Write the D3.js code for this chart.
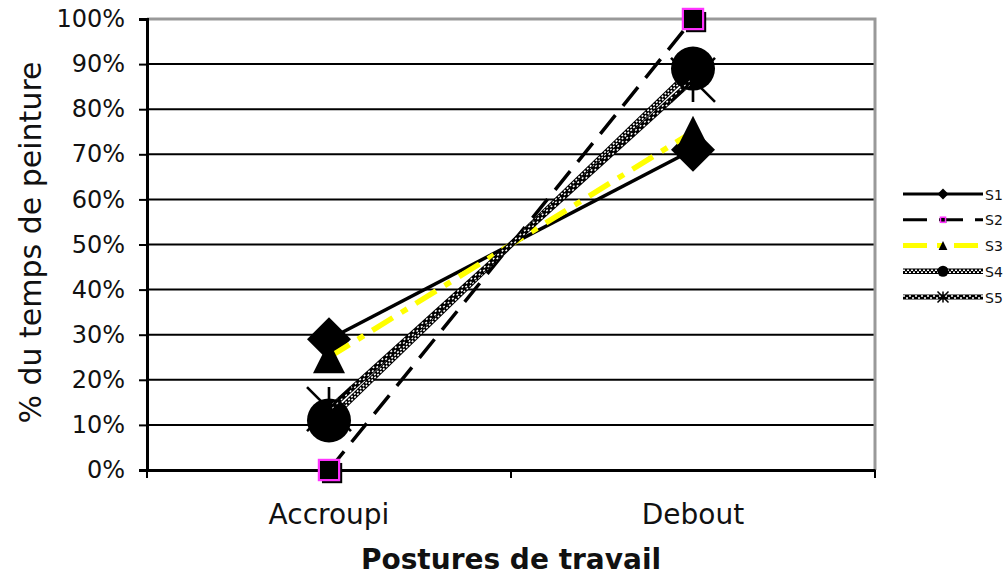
<!DOCTYPE html>
<html>
<head>
<meta charset="utf-8">
<script src="https://cdn.jsdelivr.net/npm/d3@7"></script>
<style>
  html, body { margin: 0; padding: 0; background: #fff; }
  svg { display: block; font-family: "DejaVu Sans", Verdana, sans-serif; }
</style>
</head>
<body>
<svg id="chart" width="1005" height="577"></svg>
<script>
// Postures de travail : part du temps de peinture par sujet
const categories = ["Accroupi", "Debout"];
const seriesNames = ["S1", "S2", "S3", "S4", "S5"];
const s1 = [29, 71];
const s2 = [0, 100];
const s3 = [25, 75];
const s4 = [11, 89];
const s5 = [13.5, 86.5];
const yTicks = [0, 10, 20, 30, 40, 50, 60, 70, 80, 90, 100];

const seriesValues = [s1, s2, s3, s4, s5];

const svg = d3.select("#chart");
const plot = { left: 147, right: 875, top: 19, bottom: 470 };

const x = d3.scaleBand().domain(categories).range([plot.left, plot.right]);
const y = d3.scaleLinear().domain([0, 100]).range([plot.bottom, plot.top]);
const cx = d => x(d) + x.bandwidth() / 2;

// gridlines
svg.append("g").selectAll("line")
  .data(yTicks.filter(t => t > 0 && t < 100))
  .join("line")
  .attr("x1", plot.left).attr("x2", plot.right)
  .attr("y1", d => y(d)).attr("y2", d => y(d))
  .attr("stroke", "#000").attr("stroke-width", 2);

// grey plot border (top and right)
svg.append("path")
  .attr("d", `M${plot.left},${y(100)}H${plot.right}V${plot.bottom}`)
  .attr("fill", "none").attr("stroke", "#999").attr("stroke-width", 3);

// y axis
const yAxis = d3.axisLeft(y).tickValues(yTicks).tickFormat(d => d + "%")
  .tickSize(8).tickPadding(14);
const gy = svg.append("g").attr("transform", `translate(${plot.left},0)`).call(yAxis);
gy.select(".domain").attr("stroke", "#000").attr("stroke-width", 3);
gy.selectAll(".tick line").attr("stroke", "#000").attr("stroke-width", 2);
gy.selectAll(".tick text").attr("font-size", 24).attr("fill", "#111")
  .attr("font-family", "DejaVu Sans, Verdana, sans-serif");

// x axis
const xAxis = d3.axisBottom(x).tickSize(0).tickPadding(34);
const gx = svg.append("g").attr("transform", `translate(0,${plot.bottom})`).call(xAxis);
gx.select(".domain").attr("stroke", "#000").attr("stroke-width", 3);
gx.selectAll(".tick text").attr("font-size", 28).attr("fill", "#111")
  .attr("font-family", "DejaVu Sans, Verdana, sans-serif");
// category boundary ticks
const bounds = [plot.left, plot.left + x.bandwidth(), plot.right];
gx.append("g").selectAll("line").data(bounds).join("line")
  .attr("x1", d => d).attr("x2", d => d).attr("y1", 0).attr("y2", 8)
  .attr("stroke", "#000").attr("stroke-width", 2);

// axis titles
svg.append("text")
  .attr("x", (plot.left + plot.right) / 2).attr("y", 569)
  .attr("text-anchor", "middle").attr("font-size", 28).attr("font-weight", "bold")
  .attr("fill", "#111")
  .text("Postures de travail");
svg.append("text")
  .attr("transform", `translate(41,${(plot.top + plot.bottom) / 2 - 2}) rotate(-90)`)
  .attr("text-anchor", "middle").attr("font-size", 30).attr("fill", "#111")
  .text("% du temps de peinture");

// line styles per series; "off" shifts a layer sideways (perpendicular) in px
const styles = [
  { layers: [{ stroke: "#000", width: 3.5 }] },
  { layers: [{ stroke: "#000", width: 3.5, dash: "24,12" }] },
  { layers: [{ stroke: "#ffff00", width: 5.5, dash: "24,10,7,10" }] },
  { layers: [
      { stroke: "#000", width: 6 },
      { stroke: "#fff", width: 1.6, dash: "2,2", off: -1.2 },
      { stroke: "#fff", width: 1.6, dash: "2,2", dashOffset: 2, off: 1.2 }
  ] },
  { layers: [
      { stroke: "#000", width: 5.5 },
      { stroke: "#fff", width: 1.5, dash: "2,4", off: -1.1 },
      { stroke: "#fff", width: 1.5, dash: "2,4", dashOffset: 3, off: 1.1 }
  ] }
];

// marker shapes
function drawMarker(g, i, px, py, s) {
  if (i === 0) {
    g.append("path")
      .attr("d", `M${px},${py - s}L${px + s},${py}L${px},${py + s}L${px - s},${py}Z`)
      .attr("fill", "#000");
  } else if (i === 1) {
    const h = s * 0.46;
    g.append("rect").attr("x", px - h + s * 0.14).attr("y", py - h + s * 0.14)
      .attr("width", 2 * h).attr("height", 2 * h).attr("fill", "#000");
    g.append("rect").attr("x", px - h).attr("y", py - h)
      .attr("width", 2 * h).attr("height", 2 * h)
      .attr("fill", "#000").attr("stroke", "#ff33ff").attr("stroke-width", Math.max(1.5, s * 0.1));
  } else if (i === 2) {
    const h = s * 0.8;
    g.append("path")
      .attr("d", `M${px},${py - h}L${px + h},${py + h}L${px - h},${py + h}Z`)
      .attr("fill", "#000");
  } else if (i === 3) {
    g.append("circle").attr("cx", px).attr("cy", py).attr("r", s).attr("fill", "#000");
  } else {
    const r = s;
    g.append("path")
      .attr("d", `M${px - r},${py - r}L${px + r},${py + r}M${px + r},${py - r}L${px - r},${py + r}M${px},${py - r}V${py + r}`)
      .attr("stroke", "#000").attr("stroke-width", Math.max(1.5, s * 0.12)).attr("fill", "none");
  }
}
const markerSize = [22, 22, 20, 22, 22];

function layerPath(g, pts, l, scale) {
  // perpendicular offset of a straight two-point line
  const [a, b] = pts;
  const dx = b[0] - a[0], dy = b[1] - a[1];
  const len = Math.hypot(dx, dy) || 1;
  const o = (l.off || 0) * scale;
  const nx = -dy / len * o, ny = dx / len * o;
  g.append("path")
    .attr("d", d3.line()(pts.map(p => [p[0] + nx, p[1] + ny])))
    .attr("fill", "none")
    .attr("stroke", l.stroke).attr("stroke-width", l.width * scale)
    .attr("stroke-dasharray", l.dash || null)
    .attr("stroke-dashoffset", l.dashOffset || null);
}

seriesValues.forEach((vals, i) => {
  const g = svg.append("g");
  const pts = vals.map((v, j) => [cx(categories[j]), y(v)]);
  styles[i].layers.forEach(l => layerPath(g, pts, l, 1));
  pts.forEach(p => drawMarker(g, i, p[0], p[1], markerSize[i]));
});

// legend
const legend = svg.append("g");
const legendY = d3.scalePoint().domain(seriesNames).range([194, 297]);
seriesNames.forEach((name, i) => {
  const g = legend.append("g");
  const ly = legendY(name);
  styles[i].layers.forEach(l => layerPath(g, [[903, ly], [983, ly]], l, 0.9));
  drawMarker(g, i, 943, ly, 5.5);
  g.append("text").attr("x", 985).attr("y", ly + 5.5).attr("font-size", 14).attr("fill", "#111").text(name);
});
</script>
</body>
</html>
